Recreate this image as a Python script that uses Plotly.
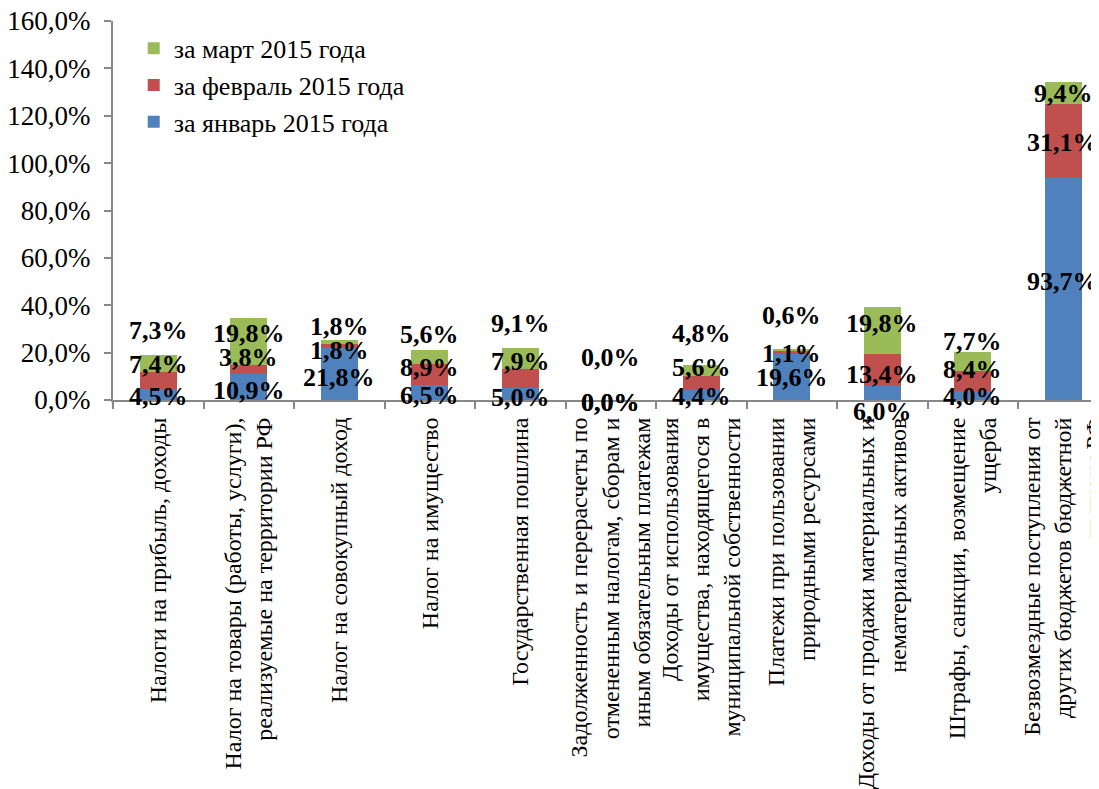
import plotly.graph_objects as go

# ---------------- data ----------------
categories = [
    "Налоги на прибыль, доходы",
    "Налог на товары (работы, услуги),<br>реализуемые на территории РФ",
    "Налог на совокупный доход",
    "Налог на имущество",
    "Государственная пошлина",
    "Задолженность и перерасчеты по<br>отмененным налогам, сборам и<br>иным обязательным платежам",
    "Доходы от использования<br>имущества, находящегося в<br>муниципальной собственности",
    "Платежи при пользовании<br>природными ресурсами",
    "Доходы от продажи материальных и<br>нематериальных активов",
    "Штрафы, санкции, возмещение<br>ущерба",
    "Безвозмездные поступления от<br>других бюджетов бюджетной<br>системы РФ",
]
jan = [4.5, 10.9, 21.8, 6.5, 5.0, 0.0, 4.4, 19.6, 6.0, 4.0, 93.7]
feb = [7.4, 3.8, 1.8, 8.9, 7.9, 0.0, 5.6, 1.1, 13.4, 8.4, 31.1]
mar = [7.3, 19.8, 1.8, 5.6, 9.1, 0.0, 4.8, 0.6, 19.8, 7.7, 9.4]
series_names = ["за январь 2015 года", "за февраль 2015 года", "за март 2015 года"]
y_ticks = [0, 20, 40, 60, 80, 100, 120, 140, 160]

# ---------------- styling ----------------
colors = ["#4F81BD", "#C0504D", "#9BBB59"]
FONT = "Liberation Serif"
AXIS_COLOR = "#888888"
# vertical pixel nudges of the data labels relative to segment centres
label_nudge_px = [
    [-2, -3, -3, -3, -3, -2, -2, -1, -19, -1, 8],
    [16, 12, -4, 7, 17, -2, 15, -1, -5, 11, -1],
    [33, 8, 15, 22, 35, 43, 37, 35, 7, 20, 0],
]


def fmt(v):
    return f"{v:.1f}".replace(".", ",") + "%"


fig = go.Figure()
series = [jan, feb, mar]
for name, vals, col in zip(series_names, series, colors):
    fig.add_trace(go.Bar(
        x=categories, y=vals, name=name,
        marker=dict(color=col, line=dict(width=0)),
    ))

annotations = []
for i, cat in enumerate(categories):
    base = 0.0
    for s, vals in enumerate(series):
        v = vals[i]
        annotations.append(dict(
            x=cat, y=base + v / 2, xref="x", yref="y",
            text="<b>" + fmt(v) + "</b>", showarrow=False,
            yshift=label_nudge_px[s][i],
            font=dict(family=FONT, size=26, color="black"),
        ))
        base += v

# the page body adds an 8px offset, so the figure is slightly smaller
fig.update_layout(
    barmode="stack",
    bargap=0.59,
    width=1091, height=781,
    margin=dict(l=105, r=0, t=13, b=389, autoexpand=False),
    paper_bgcolor="white", plot_bgcolor="white",
    font=dict(family=FONT, color="black"),
    showlegend=True,
    legend=dict(
        x=0.021, y=0.99, xanchor="left", yanchor="top",
        traceorder="reversed",
        font=dict(family=FONT, size=26, color="black"),
        bgcolor="rgba(0,0,0,0)",
        itemwidth=30,
    ),
    annotations=annotations,
)
fig.update_yaxes(
    range=[0, 160], tickvals=y_ticks, ticktext=[fmt(t) for t in y_ticks],
    showgrid=False, zeroline=False, automargin=False,
    showline=True, linecolor=AXIS_COLOR, linewidth=2,
    ticks="outside", ticklen=7, tickcolor=AXIS_COLOR, tickwidth=2,
    tickfont=dict(family=FONT, size=27, color="black"),
    ticklabelstandoff=8,
    ticklabeloverflow="allow",
)
fig.update_xaxes(
    type="category", range=[-0.5, 10.395],
    showgrid=False, zeroline=False, automargin=False,
    showline=True, linecolor=AXIS_COLOR, linewidth=2,
    ticks="outside", ticklen=7, tickcolor=AXIS_COLOR, tickwidth=2,
    tickson="boundaries",
    tickangle=-90,
    ticklabelstandoff=6,
    ticklabeloverflow="allow",
    tickfont=dict(family=FONT, size=24, color="black"),
)

fig.write_html("out.html")
